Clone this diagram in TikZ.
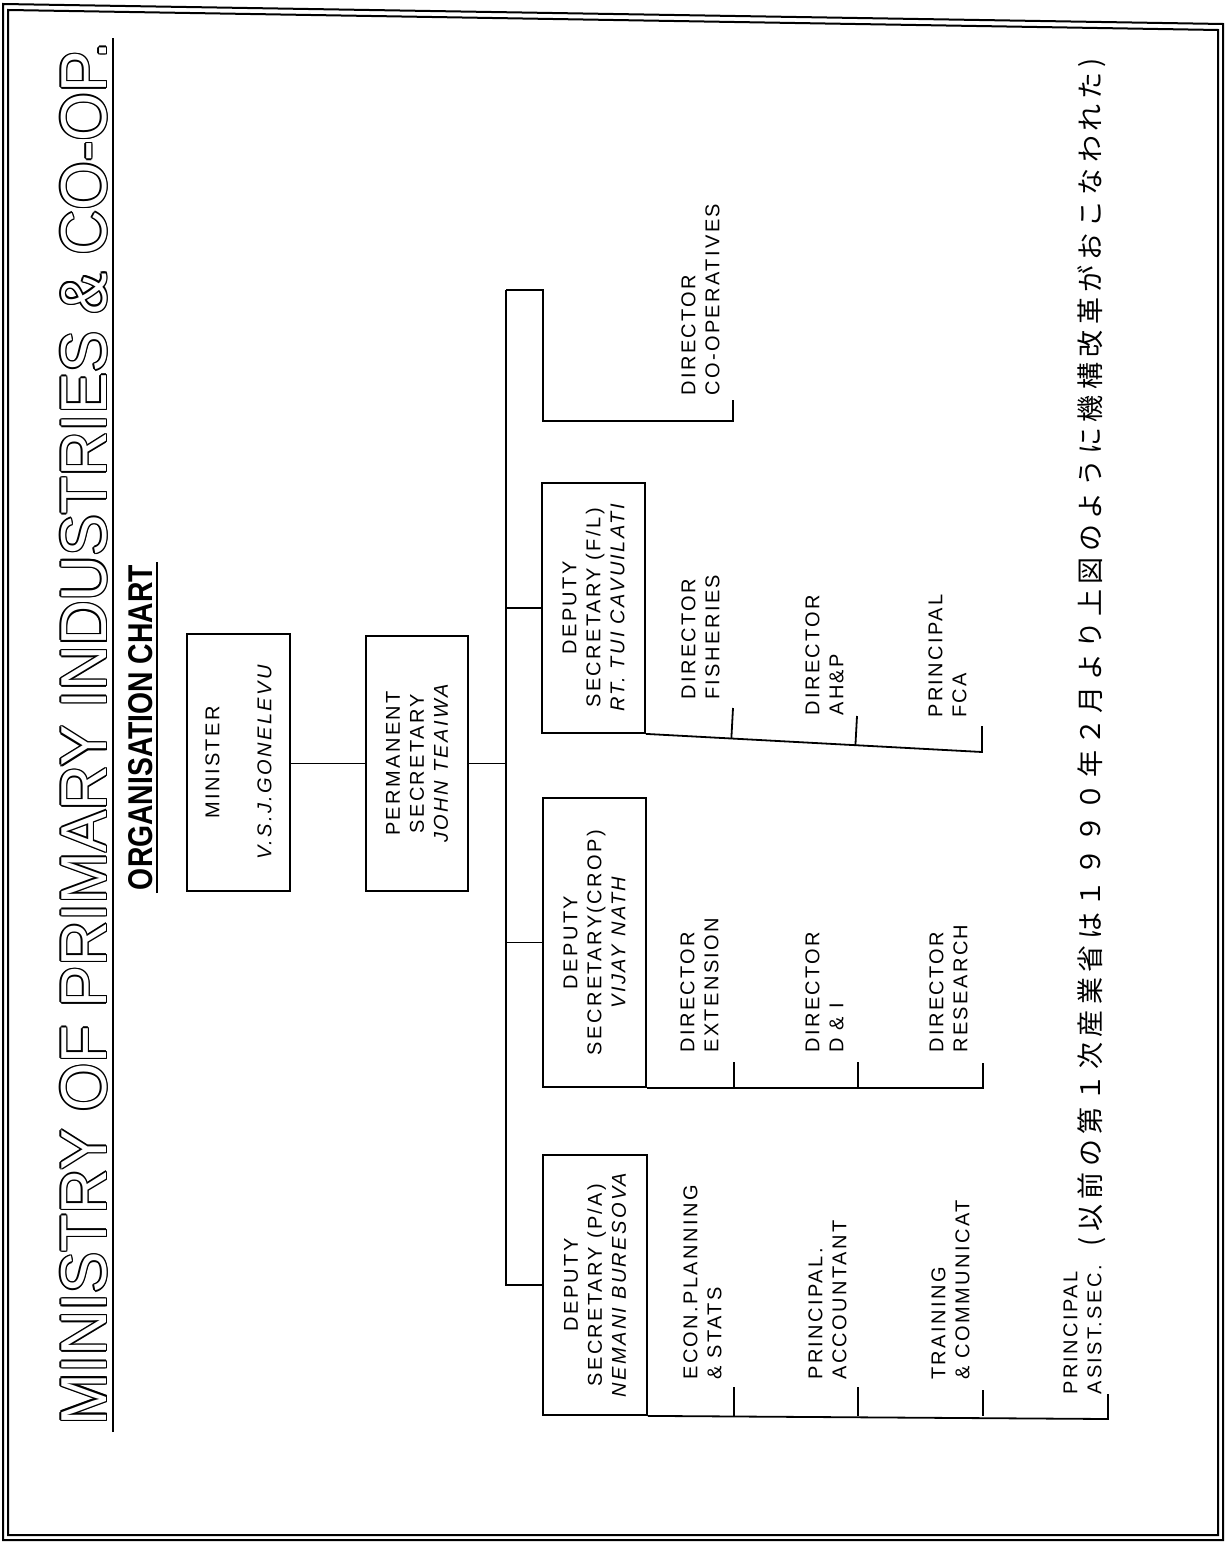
\documentclass[tikz,border=0pt]{standalone}
\usepackage{fontspec}
\usepackage{graphicx}
\usetikzlibrary{calc}
\setmainfont{Liberation Sans}
\newfontfamily\lab[LetterSpace=12]{Liberation Sans}
\newfontfamily\jpfont[LetterSpace=20]{Noto Sans CJK JP}
\newcommand{\titleoutline}[1]{\leavevmode
  \rlap{\kern-0.8pt#1}\rlap{\kern0.8pt#1}%
  \rlap{\raisebox{0.8pt}{#1}}\rlap{\raisebox{-0.8pt}{#1}}%
  \rlap{\kern0.56pt\raisebox{0.56pt}{#1}}\rlap{\kern-0.56pt\raisebox{0.56pt}{#1}}%
  \rlap{\kern0.56pt\raisebox{-0.56pt}{#1}}\rlap{\kern-0.56pt\raisebox{-0.56pt}{#1}}%
  \textcolor{white}{#1}}
\tikzset{
  unitbox/.style={draw, line width=0.9pt, rotate=90, inner sep=0pt, align=center,
    font=\lab\fontsize{10}{12}\selectfont},
  sublabel/.style={rotate=90, inner sep=0pt, align=left, anchor=south west,
    font=\lab\fontsize{10}{12}\selectfont},
  conn/.style={line width=0.9pt},
  frame/.style={line width=1pt},
}
\begin{document}
\begin{tikzpicture}[x=0.5pt,y=-0.5pt]
\useasboundingbox (0,0) rectangle (1226,1545);
% frame (double line)
\draw[frame] (3,4) -- (1223,24) -- (1223,1540) -- (3,1540) -- cycle;
\draw[frame] (8,10) -- (1218,30) -- (1218,1535) -- (8,1535) -- cycle;

% title
\node[rotate=90, inner sep=0pt, anchor=south] (title) at (109,733.5)
  {\resizebox{691.5pt}{23.5pt}{\fontsize{32}{32}\selectfont\titleoutline{MINISTRY OF PRIMARY INDUSTRIES \& CO-OP.}}};
\draw[line width=1pt] (113,1432) -- (113,38);
\node[rotate=90, inner sep=0pt, anchor=south] (subtitle) at (153,727.5)
  {\resizebox{162.5pt}{12pt}{\bfseries ORGANISATION CHART}};
\draw[line width=1pt] (157,893) -- (157,562);

% boxes
\node[unitbox, minimum width=128.5pt, minimum height=51.5pt] (minister) at (238.5,762.5)
  {MINISTER\\[14pt]\itshape V.S.J.GONELEVU};
\node[unitbox, minimum width=127.5pt, minimum height=51pt] (ps) at (417,763.5)
  {PERMANENT\\SECRETARY\\\itshape JOHN TEAIWA};
\node[unitbox, minimum width=125pt, minimum height=51.5pt] (dsfl) at (593.5,608)
  {DEPUTY\\SECRETARY (F/L)\\\itshape RT. TUI CAVUILATI};
\node[unitbox, minimum width=144.5pt, minimum height=51.5pt] (dscrop) at (594.5,942.5)
  {DEPUTY\\SECRETARY(CROP)\\\itshape VIJAY NATH};
\node[unitbox, minimum width=130pt, minimum height=52pt] (dspa) at (595,1285)
  {DEPUTY\\SECRETARY (P/A)\\\itshape NEMANI BURESOVA};

% trunk
\coordinate (trk) at (506,290);
\coordinate (c1) at (543,290);
\coordinate (c2) at (543,421);
\draw[conn] (minister.south |- ps.north) -- (ps.north);
\draw[conn] (ps.south) -- (trk |- ps.south);
\draw[conn] (trk) -- (trk |- dspa.north) -- (dspa.north);
\draw[conn] (trk |- dsfl.north) -- (dsfl.north);
\draw[conn] (trk |- dscrop.north) -- (dscrop.north);

% co-operatives branch
\node[sublabel] (coop) at (720,396) {DIRECTOR\\CO-OPERATIVES};
\coordinate (tk-coop) at (733,400);
\draw[conn] (trk) -- (c1) -- (c2) -| (tk-coop);

% F/L sub items
\node[sublabel] (fish) at (720,700) {DIRECTOR\\FISHERIES};
\node[sublabel] (ahp) at (844,716) {DIRECTOR\\AH\&P};
\node[sublabel] (fca) at (967,718) {PRINCIPAL\\FCA};
\coordinate (tk-fish) at (733,708);
\coordinate (tk-ahp) at (857,716);
\coordinate (tk-fca) at (982,726);
\coordinate (fl-end) at (982,752);
\draw[conn] (dsfl.south west) -- (fl-end) -- (tk-fca);
\draw[conn] (tk-fish) -- ($(dsfl.south west)!(tk-fish)!(fl-end)$);
\draw[conn] (tk-ahp) -- ($(dsfl.south west)!(tk-ahp)!(fl-end)$);

% CROP sub items
\node[sublabel] (ext) at (719,1053) {DIRECTOR\\EXTENSION};
\node[sublabel] (di) at (844,1053) {DIRECTOR\\D \& I};
\node[sublabel] (res) at (968,1053) {DIRECTOR\\RESEARCH};
\coordinate (tk-ext) at (734,1062);
\coordinate (tk-di) at (858,1062);
\coordinate (tk-res) at (983,1063);
\draw[conn] (dscrop.south west) -- (tk-res |- dscrop.south west) -- (tk-res);
\draw[conn] (tk-ext) -- (tk-ext |- dscrop.south west);
\draw[conn] (tk-di) -- (tk-di |- dscrop.south west);

% P/A sub items
\node[sublabel] (econ) at (722,1380) {ECON.PLANNING\\\& STATS};
\node[sublabel] (acct) at (847,1380) {PRINCIPAL.\\ACCOUNTANT};
\node[sublabel] (train) at (970,1380) {TRAINING\\\& COMMUNICAT};
\node[sublabel] (asist) at (1102,1395) {PRINCIPAL\\ASIST.SEC.};
\coordinate (tk-econ) at (734,1387);
\coordinate (tk-acct) at (858,1387);
\coordinate (tk-train) at (983,1390);
\coordinate (tk-asist) at (1108,1394);
\coordinate (pa-end) at (1108,1419);
\draw[conn] (dspa.south west) -- (pa-end) -- (tk-asist);
\draw[conn] (tk-econ) -- (tk-econ |- dspa.south west);
\draw[conn] (tk-acct) -- (tk-acct |- dspa.south west);
\draw[conn] (tk-train) -- (tk-train |- dspa.south west);

% note
\node[rotate=90, inner sep=0pt] (note) at (1092,652)
  {\jpfont\fontsize{13.5}{13.5}\selectfont (以前の第１次産業省は１９９０年２月より上図のように機構改革がおこなわれた)};
\end{tikzpicture}
\end{document}
